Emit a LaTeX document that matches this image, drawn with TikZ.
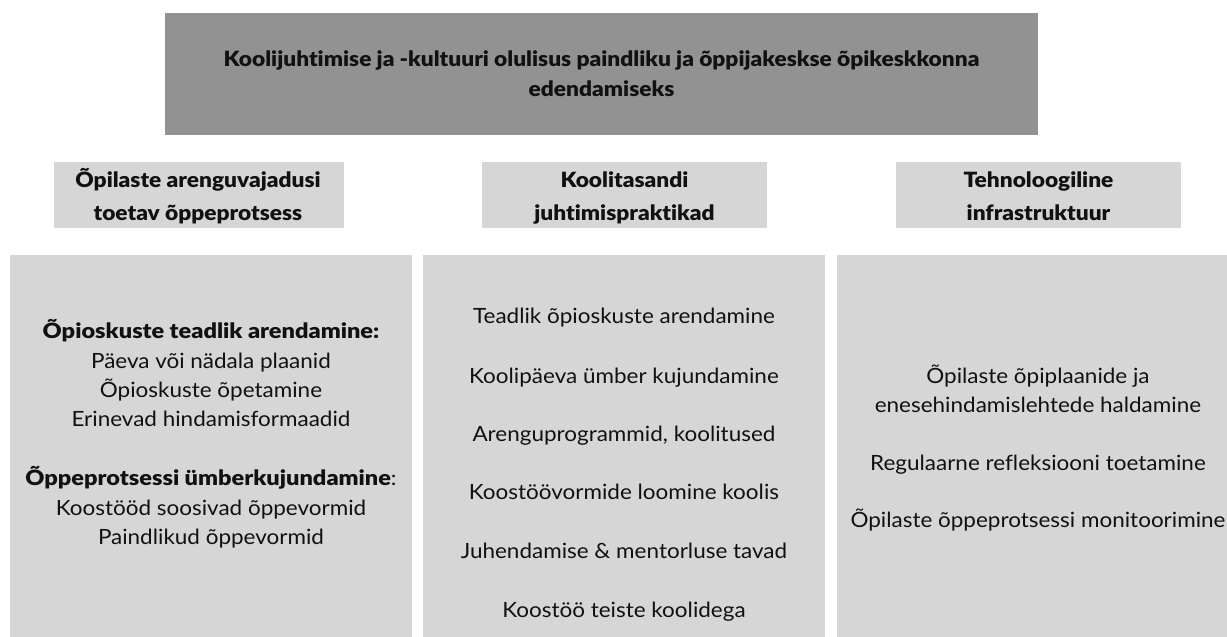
\documentclass[tikz,border=0pt]{standalone}
\usepackage{fontspec}
\setmainfont{Lato}[FakeStretch=1.07, Ligatures=NoCommon]
\newfontfamily\titlefont{Lato Black}[FakeStretch=1.08, Ligatures=NoCommon]
\newfontfamily\heavyfont{Lato Black}[FakeStretch=1.08, Ligatures=NoCommon]
\newfontfamily\heavybody{Lato Black}[FakeStretch=1.12, Ligatures=NoCommon]
\definecolor{darkbox}{HTML}{929292}
\definecolor{lightbox}{HTML}{D6D6D6}
\definecolor{ink}{HTML}{111111}
\tikzset{
  boxshape/.style={rectangle, inner sep=0pt, draw=none},
  titlebox/.style={boxshape, fill=darkbox},
  lightrect/.style={boxshape, fill=lightbox},
  ttl/.style={anchor=base, inner sep=0pt, text=ink, font=\titlefont\fontsize{21}{25}\selectfont},
  hd/.style={anchor=base, inner sep=0pt, text=ink, font=\heavyfont\fontsize{21}{26}\selectfont},
  txt/.style={anchor=base, inner sep=0pt, text=ink, font=\fontsize{21}{25}\selectfont},
  btxt/.style={anchor=base, inner sep=0pt, text=ink, font=\heavybody\fontsize{21}{25}\selectfont}
}
\begin{document}
\begin{tikzpicture}[x=1pt,y=-1pt]
\useasboundingbox (0,0) rectangle (1227,637);
\clip (0,0) rectangle (1227,637);
% boxes
\node[titlebox, minimum width=873pt, minimum height=122pt] (title) at (601.5,74) {};
\node[lightrect, minimum width=290pt, minimum height=66pt] (h1) at (199,195) {};
\node[lightrect, minimum width=285pt, minimum height=66pt] (h2) at (624.5,195) {};
\node[lightrect, minimum width=285pt, minimum height=66pt] (h3) at (1038.5,195) {};
\node[lightrect, minimum width=402pt, minimum height=400pt] (b1) at (211,455) {};
\node[lightrect, minimum width=402pt, minimum height=400pt] (b2) at (624,455) {};
\node[lightrect, minimum width=402pt, minimum height=400pt] (b3) at (1038,455) {};
% title text
\node[ttl] (t1) at (601.5,66) {Koolijuhtimise ja -kultuuri olulisus paindliku ja õppijakeskse õpikeskkonna};
\node[ttl] (t2) at (601.5,96) {edendamiseks};
% headers
\node[hd] (h1a) at (198,187) {Õpilaste arenguvajadusi};
\node[hd] (h1b) at (198,220) {toetav õppeprotsess};
\node[hd] (h2a) at (624.5,187) {Koolitasandi};
\node[hd] (h2b) at (624.5,220) {juhtimispraktikad};
\node[hd] (h3a) at (1038.5,187) {Tehnoloogiline};
\node[hd] (h3b) at (1038.5,220) {infrastruktuur};
% left body
\node[btxt] (l1) at (211,338) {Õpioskuste teadlik arendamine:};
\node[txt] (l2) at (211,368) {Päeva või nädala plaanid};
\node[txt] (l3) at (211,397) {Õpioskuste õpetamine};
\node[txt] (l4) at (211,426) {Erinevad hindamisformaadid};
\node[txt] (l5) at (211,485) {{\heavybody Õppeprotsessi ümberkujundamine}:};
\node[txt] (l6) at (211,515) {Koostööd soosivad õppevormid};
\node[txt] (l7) at (211,544) {Paindlikud õppevormid};
% middle body
\node[txt] (m1) at (624,323) {Teadlik õpioskuste arendamine};
\node[txt] (m2) at (624,383) {Koolipäeva ümber kujundamine};
\node[txt] (m3) at (624,441) {Arenguprogrammid, koolitused};
\node[txt] (m4) at (624,499) {Koostöövormide loomine koolis};
\node[txt] (m5) at (624,558) {Juhendamise \& mentorluse tavad};
\node[txt] (m6) at (624,617) {Koostöö teiste koolidega};
% right body
\node[txt] (r1) at (1038,383) {Õpilaste õpiplaanide ja};
\node[txt] (r2) at (1038,412) {enesehindamislehtede haldamine};
\node[txt] (r3) at (1038,470) {Regulaarne refleksiooni toetamine};
\node[txt] (r4) at (1038,527) {Õpilaste õppeprotsessi monitoorimine};
\end{tikzpicture}
\end{document}
